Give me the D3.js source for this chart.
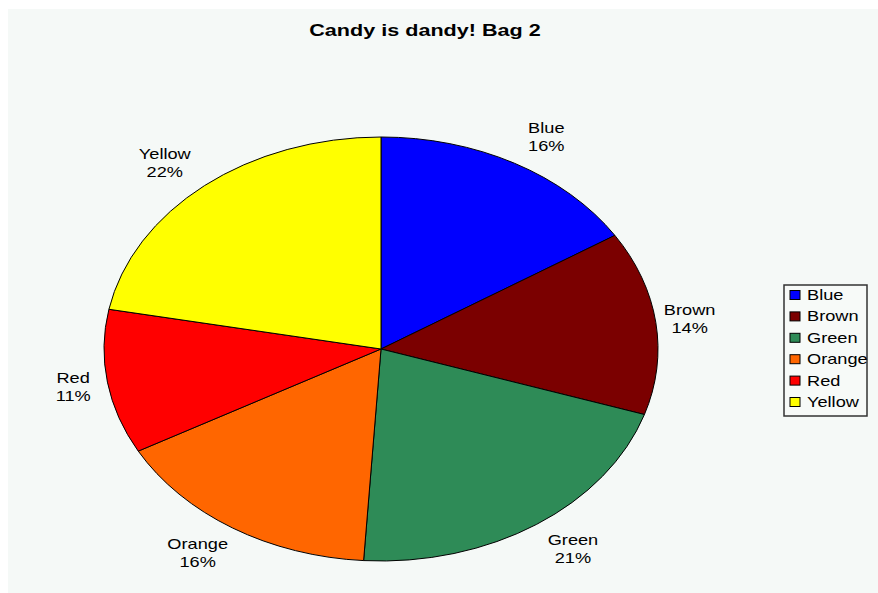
<!DOCTYPE html>
<html>
<head>
<meta charset="utf-8">
<script src="https://cdn.jsdelivr.net/npm/d3@7"></script>
<style>
  html, body { margin: 0; padding: 0; background: #ffffff; }
  text { font-family: Arial, 'Liberation Sans', sans-serif; }
</style>
</head>
<body>
<div class="chart-holder"></div>
<script>
let title = 'Candy is dandy! Bag 2'
let candyColors = ['Blue', 'Brown', 'Green', 'Orange', 'Red', 'Yellow']
let percentages = [16, 14, 21, 16, 11, 22]
let swatches = ['#0000ff', '#7b0000', '#2e8b57', '#ff6600', '#ff0000', '#ffff00']

let width = 878
let height = 593
// the whole picture is stretched sideways
let stretch = 277 / 212
let radius = 212
let center = { x: 381, y: 349 }

let color = d3.scaleOrdinal().domain(candyColors).range(swatches)

let svg = d3.select('.chart-holder')
    .append('svg')
        .attr('width', width)
        .attr('height', height)

svg.append('rect')
    .attr('x', 8).attr('y', 9)
    .attr('width', width - 8).attr('height', height - 9)
    .attr('fill', '#f5f9f7')

svg.append('text')
    .attr('transform', 'translate(425, 36) scale(1.35, 1)')
    .attr('text-anchor', 'middle')
    .attr('font-size', 16)
    .attr('font-weight', 'bold')
    .attr('fill', '#000')
    .text(title)

let slices = candyColors.map((c, i) => ({ name: c, value: percentages[i] }))

let pie = d3.pie().sort(null).value(d => d.value)
let arc = d3.arc().innerRadius(0).outerRadius(radius)

let arcs = pie(slices)

let chart = svg.append('g')
    .attr('transform', 'translate(' + center.x + ',' + center.y + ') scale(' + stretch + ', 1)')

chart.selectAll('path')
    .data(arcs)
    .enter()
    .append('path')
        .attr('d', arc)
        .attr('fill', d => color(d.data.name))
        .attr('stroke', '#000')
        .attr('stroke-width', 1)
        .attr('vector-effect', 'non-scaling-stroke')

// labels sit a bit closer in at the sides than on the diagonals
function labelPos(d) {
    let a = (d.startAngle + d.endAngle) / 2
    let s = Math.sin(a), c = Math.cos(a)
    let rx = 345 - 35 * Math.pow(Math.abs(s), 4)
    let ry = 242
    return [center.x + s * rx, center.y - c * ry]
}

let labels = svg.append('g').attr('class', 'labels')
    .selectAll('g')
    .data(arcs)
    .enter()
    .append('g')
        .attr('transform', d => {
            let [x, y] = labelPos(d)
            return 'translate(' + x + ',' + y + ') scale(1.3, 1)'
        })

labels.append('text')
    .attr('text-anchor', 'middle')
    .attr('y', -4)
    .attr('font-size', 14)
    .text(d => d.data.name)

labels.append('text')
    .attr('text-anchor', 'middle')
    .attr('y', 14)
    .attr('font-size', 14)
    .text(d => d.data.value + '%')

// legend
let legend = svg.append('g').attr('class', 'legend')
    .attr('transform', 'translate(784, 285)')

legend.append('rect')
    .attr('width', 83).attr('height', 131)
    .attr('fill', '#f7faf8')
    .attr('stroke', '#333')
    .attr('stroke-width', 1.5)

let rows = legend.selectAll('g')
    .data(candyColors)
    .enter()
    .append('g')
        .attr('transform', (d, i) => 'translate(6,' + (10 + i * 21.4) + ')')

rows.append('rect')
    .attr('x', 0).attr('y', -4.5)
    .attr('width', 10).attr('height', 9)
    .attr('fill', d => color(d))
    .attr('stroke', '#000')
    .attr('stroke-width', 1)

rows.append('text')
    .attr('transform', 'translate(17, 5) scale(1.3, 1)')
    .attr('font-size', 14)
    .text(d => d)
</script>
</body>
</html>
